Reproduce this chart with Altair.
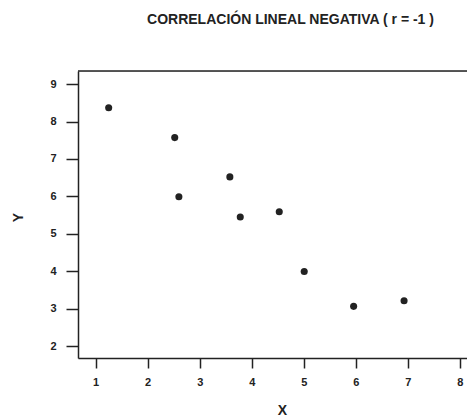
import altair as alt
import pandas as pd

x_vals = [1.25, 2.52, 3.58, 2.60, 3.78, 4.53, 5.01, 5.96, 6.93]
y_vals = [8.37, 7.57, 6.52, 5.99, 5.45, 5.59, 3.99, 3.06, 3.21]
x_ticks = [1, 2, 3, 4, 5, 6, 7, 8]
y_ticks = [2, 3, 4, 5, 6, 7, 8, 9]
title_text = "CORRELACIÓN LINEAL NEGATIVA ( r = -1 )"

df = pd.DataFrame({"X": x_vals, "Y": y_vals})

W, H = 389, 287
FONT = "Liberation Sans"
INK = "#222222"

points = alt.Chart(df).mark_circle(size=50, color=INK, opacity=1).encode(
    x=alt.X("X:Q",
            scale=alt.Scale(domain=[0.66, 8.14], nice=False, zero=False),
            axis=alt.Axis(values=x_ticks, title="X", grid=False, tickSize=10,
                          labelPadding=8, labelFontSize=11, labelFont=FONT,
                          labelFontWeight="bold", labelColor=INK,
                          tickColor=INK, tickWidth=1.5,
                          domainColor=INK, domainWidth=1.5,
                          titleFont=FONT, titleFontSize=14, titleFontWeight="bold",
                          titleColor=INK, titleX=204, titleY=52,
                          titleBaseline="middle", titleAlign="center")),
    y=alt.Y("Y:Q",
            scale=alt.Scale(domain=[1.68, 9.35], nice=False, zero=False),
            axis=alt.Axis(values=y_ticks, title="Y", grid=False, tickSize=12,
                          labelPadding=10, labelFontSize=11, labelFont=FONT,
                          labelFontWeight="bold", labelColor=INK,
                          tickColor=INK, tickWidth=1.5,
                          domainColor=INK, domainWidth=1.5,
                          titleFont=FONT, titleFontSize=14, titleFontWeight="bold",
                          titleColor=INK, titleX=-60, titleY=146,
                          titleBaseline="middle", titleAlign="center")),
)

top_border = alt.Chart(pd.DataFrame({"k": [0]})).mark_rule(color=INK, strokeWidth=1.5).encode(
    x=alt.value(0), x2=alt.value(W), y=alt.value(0)
)

chart = alt.layer(points, top_border).properties(
    width=W, height=H,
    title=alt.TitleParams(title_text, fontSize=14, font=FONT, fontWeight="bold",
                          color=INK, anchor="middle", dx=18, offset=36,
                          baseline="middle"),
    autosize=alt.AutoSizeParams(type="none"),
    padding={"left": 70, "top": 63, "right": 0, "bottom": 60},
).configure_view(stroke=None).configure(background="white")

chart.save("out.html", embed_options={"renderer": "svg", "actions": False})
